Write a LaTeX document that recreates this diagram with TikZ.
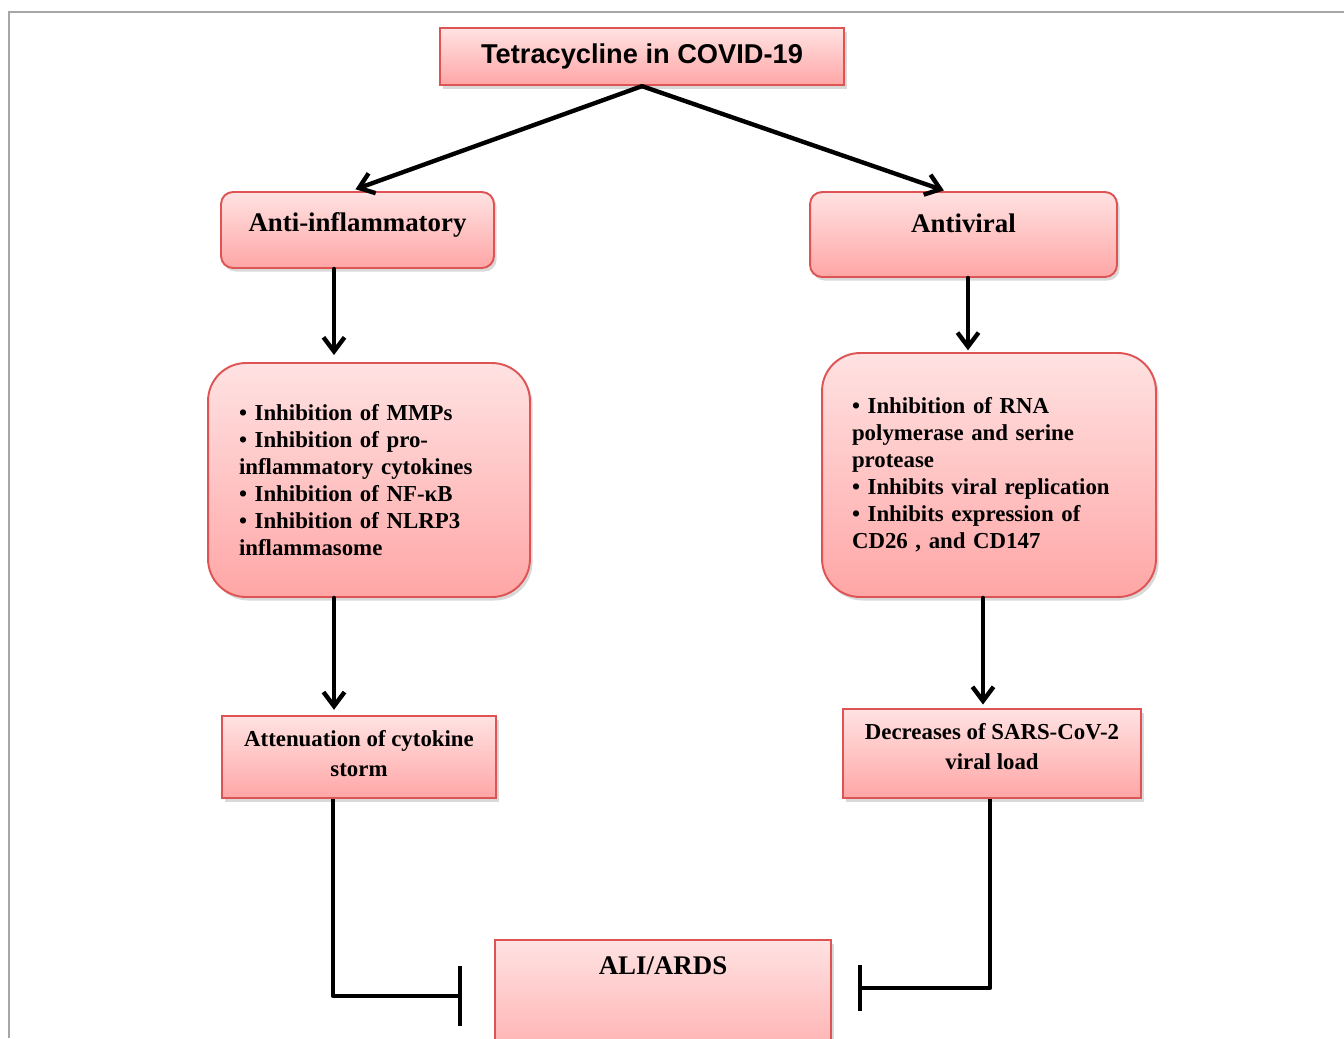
\documentclass[tikz,border=0pt]{standalone}
\usepackage{fontspec}
\setmainfont{Liberation Serif}
\newfontfamily\headfont{Liberation Sans}
\usetikzlibrary{arrows.meta,shadows}
\definecolor{boxedge}{RGB}{222,84,84}
\definecolor{boxtop}{RGB}{255,226,226}
\definecolor{boxbot}{RGB}{255,166,166}

\begin{document}
\begin{tikzpicture}[x=0.02cm, y=-0.02cm, >={Straight Barb[length=8pt,width=12pt]},
  pinkbox/.style={draw=boxedge, line width=1.1pt, top color=boxtop, bottom color=boxbot,
    drop shadow={opacity=0.3, shadow xshift=1.5pt, shadow yshift=-2pt}, font=\bfseries},
  mechbox/.style={pinkbox, rounded corners=0.76cm, align=left, inner xsep=0pt,
    font=\fontsize{13}{15.4}\selectfont\bfseries},
  flow/.style={line width=2.5pt, line cap=round, line join=round}]
\useasboundingbox (0,0) rectangle (1344,1038);
\draw[gray!70, line width=1pt] (9,1038) -- (9,12) -- (1344,12);

\node[pinkbox, line width=1.3pt, minimum width=8.08cm, minimum height=1.14cm, font=\headfont\bfseries\fontsize{15.5}{18}\selectfont] (title) at (642,56.5) {Tetracycline in COVID-19};
\node[pinkbox, rounded corners=0.24cm, minimum width=5.46cm, minimum height=1.52cm, text depth=9pt, font=\fontsize{15.3}{18}\selectfont\bfseries] (anti) at (357.5,230) {Anti-inflammatory};
\node[pinkbox, rounded corners=0.24cm, minimum width=6.14cm, minimum height=1.7cm, text depth=13pt, font=\fontsize{15.3}{18}\selectfont\bfseries] (antiviral) at (963.5,234.5) {Antiviral};

\node[mechbox, minimum width=6.44cm, minimum height=4.68cm, text width=5.2cm] (mechL) at (369,480)
  {• Inhibition of MMPs\\ • Inhibition of pro-\\ inflammatory cytokines\\ • Inhibition of NF-κB\\ • Inhibition of NLRP3\\ inflammasome};
\node[mechbox, minimum width=6.68cm, minimum height=4.88cm, text width=5.48cm] (mechR) at (989,475)
  {• Inhibition of RNA\\ polymerase and serine\\ protease\\ • Inhibits viral replication\\ • Inhibits expression of\\ CD26 , and CD147};

\node[pinkbox, minimum width=5.48cm, minimum height=1.64cm, align=center, text depth=4pt, font=\fontsize{13}{17}\selectfont\bfseries] (attn) at (359,757) {Attenuation of cytokine\\ storm};
\node[pinkbox, minimum width=5.96cm, minimum height=1.78cm, align=center, text depth=8.5pt, font=\fontsize{13}{17}\selectfont\bfseries] (decr) at (992,753.5) {Decreases of SARS-CoV-2\\ viral load};
\node[pinkbox, minimum width=6.72cm, minimum height=2.8cm, text depth=51pt, font=\fontsize{15.3}{18}\selectfont\bfseries] (ali) at (663,1010) {ALI/ARDS};

\coordinate (inhL) at (462,996);
\coordinate (inhR) at (858,988);

\draw[flow, ->, shorten >=3pt] (title.south) -- ([xshift=-0.14cm]anti.north);
\draw[flow, ->, shorten >=1pt] (title.south) -- ([xshift=-0.36cm]antiviral.north);
\draw[flow, ->, shorten >=4pt] (334,0 |- anti.south) -- (334,0 |- mechL.north);
\draw[flow, ->, shorten >=1pt] (968,0 |- antiviral.south) -- (968,0 |- mechR.north);
\draw[flow, ->, shorten >=3pt] (334,0 |- mechL.south) -- (334,0 |- attn.north);
\draw[flow, ->, shorten >=2pt] (983,0 |- mechR.south) -- (983,0 |- decr.north);
\draw[flow, line cap=butt, -{Bar[width=34pt]}] (333,0 |- attn.south) |- (inhL);
\draw[flow, line cap=butt, -{Bar[width=26pt]}] (990,0 |- decr.south) |- (inhR);
\end{tikzpicture}
\end{document}
